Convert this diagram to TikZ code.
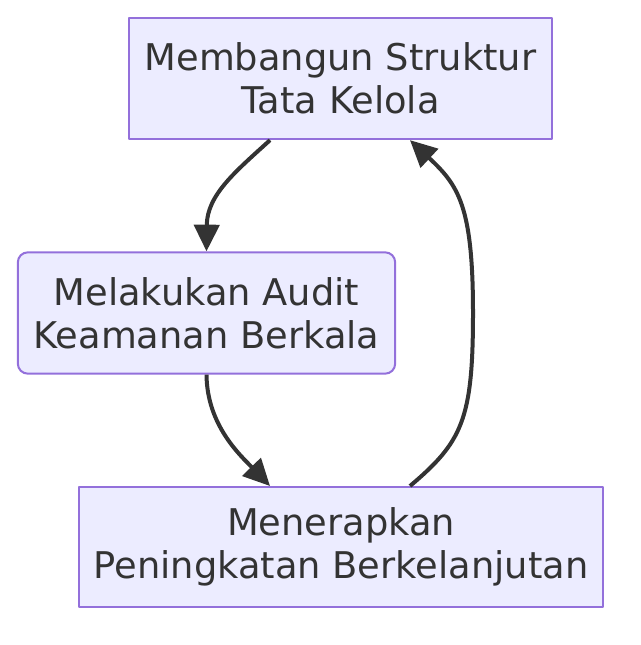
\documentclass[tikz,border=0pt]{standalone}
\usepackage{fontspec}
\setmainfont{DejaVu Sans}
\usetikzlibrary{arrows.meta,calc}
\definecolor{boxfill}{HTML}{ECECFF}
\definecolor{boxline}{HTML}{9370DB}
\definecolor{ink}{HTML}{333333}
\begin{document}
\begin{tikzpicture}[x=0.75pt,y=-0.75pt,>={Triangle[length=20pt,width=19pt]},line join=round,
		font=\fontsize{27.6}{32.5}\selectfont,
		box/.style={draw=boxline,fill=boxfill,line width=1.5pt,text=ink,align=center,inner sep=0pt},
		link/.style={->,draw=ink,line width=3pt}]
				\useasboundingbox (0,0) rectangle (640,645);
				\node[box,minimum width=317pt,minimum height=91pt] (struktur) at (340.5,78.5) {Membangun Struktur\\Tata Kelola};
				\node[box,rounded corners=7.5pt,minimum width=283pt,minimum height=91pt] (audit) at (206.5,313) {Melakukan Audit\\Keamanan Berkala};
				\node[box,minimum width=393pt,minimum height=90pt] (terapkan) at (341,547) {Menerapkan\\Peningkatan Berkelanjutan};
				\draw[link] ($(struktur.south)+(-70.5,0)$) .. controls (235,172) and (207,195) .. (audit.north);
				\draw[link] (audit.south) .. controls (207,425) and (240,455) .. ($(terapkan.north)+(-71,0)$);
				\draw[link] ($(terapkan.north)+(69,0)$) .. controls (462,442) and (473,420) .. (473,313)
					.. controls (473,205) and (458,185) .. ($(struktur.south)+(69.5,0)$);
			\end{tikzpicture}
\end{document}
